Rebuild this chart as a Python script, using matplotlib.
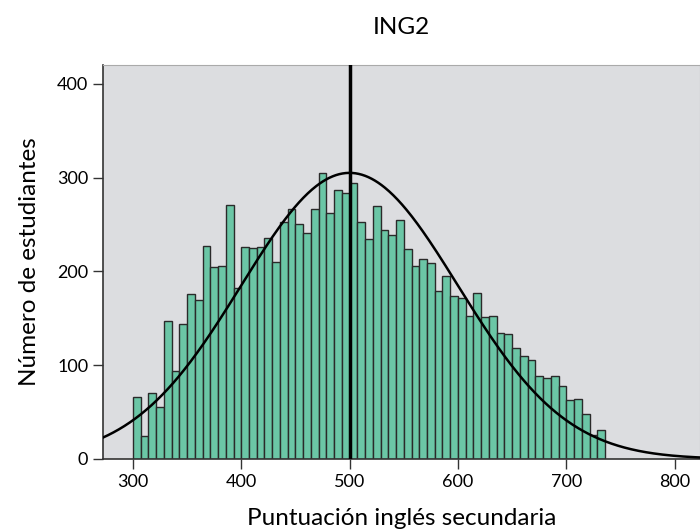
import numpy as np
import matplotlib
matplotlib.use("Agg")
import matplotlib.pyplot as plt

# Histogram data (61 bins from 300 to ~736)
bin_start = 300.0
bin_end = 735.8
counts = [66, 25, 70, 55, 147, 94, 144, 176, 169, 227,
          205, 206, 271, 182, 226, 225, 226, 236, 210, 253,
          267, 250, 241, 266, 305, 262, 287, 284, 294, 253,
          234, 270, 244, 239, 255, 224, 206, 213, 209, 179,
          195, 174, 172, 152, 177, 151, 152, 134, 133, 118,
          110, 106, 88, 86, 89, 78, 63, 64, 48, 26, 31]
mean_score = 500
sd_score = 100
curve_peak = 305
x_ticks = [300, 400, 500, 600, 700, 800]
y_ticks = [0, 100, 200, 300, 400]

plt.rcParams['font.family'] = ['Lato', 'DejaVu Sans']

fig = plt.figure(figsize=(7, 5.31), dpi=100)
ax = fig.add_axes([0.147, 0.1356, 0.853, 0.742])
ax.set_facecolor('#dcdde0')

n = len(counts)
edges = np.linspace(bin_start, bin_end, n + 1)
w = edges[1] - edges[0]
ax.bar(edges[:-1], counts, width=w, align='edge', color='#6bc6a6',
       edgecolor='#2a2a2a', linewidth=1.0, zorder=2)

xs = np.linspace(250, 850, 600)
ys = curve_peak * np.exp(-0.5 * ((xs - mean_score) / sd_score) ** 2)
ax.plot(xs, ys, color='black', linewidth=1.8, zorder=3)
ax.axvline(mean_score, color='black', linewidth=2.5, zorder=4)

ax.set_xlim(272.3, 823.5)
ax.set_ylim(0, 420)
ax.set_xticks(x_ticks)
ax.set_yticks(y_ticks)
ax.tick_params(axis='both', labelsize=13, length=7, width=1, color='#333333')
for s in ['top', 'right']:
    ax.spines[s].set_color('#aaaaaa')
    ax.spines[s].set_linewidth(0.8)
for s in ['left', 'bottom']:
    ax.spines[s].set_color('#333333')
    ax.spines[s].set_linewidth(1.2)

ax.set_xlabel('Puntuación inglés secundaria', fontsize=17.5, labelpad=13)
ax.set_ylabel('Número de estudiantes', fontsize=17.5, labelpad=12)
ax.set_title('ING2', fontsize=17.5, pad=22)

fig.savefig('out.png', dpi=100)
